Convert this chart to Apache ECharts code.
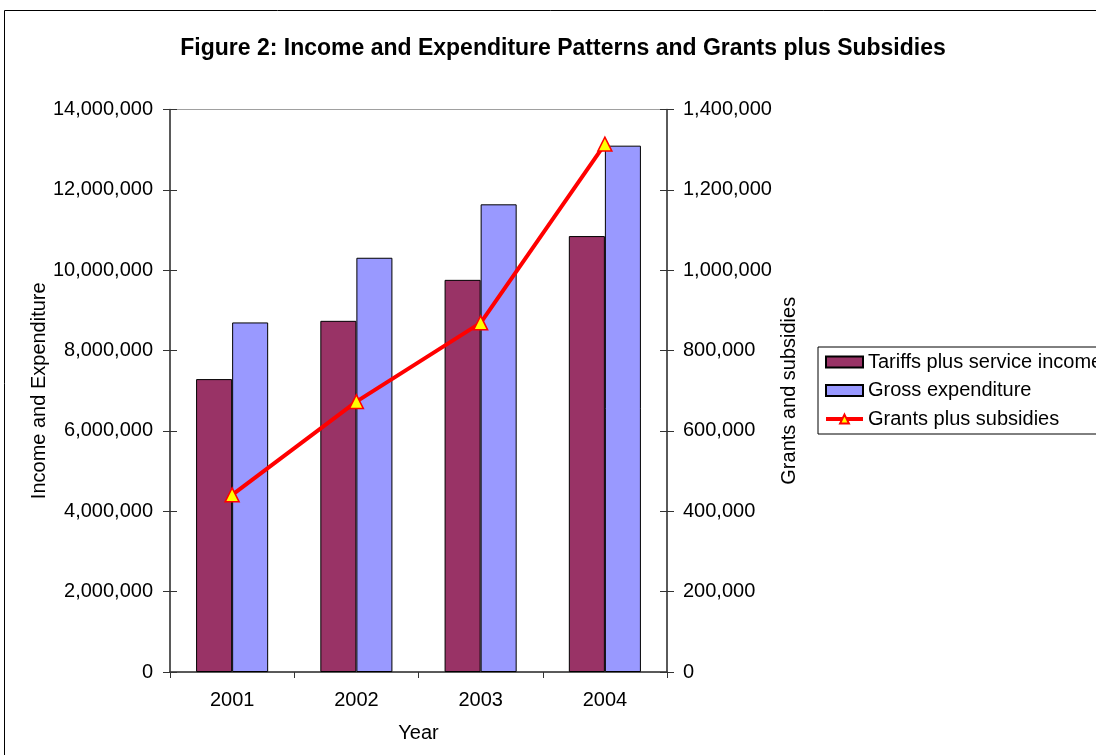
<!DOCTYPE html>
<html>
<head>
<meta charset="utf-8">
<script src="https://cdn.jsdelivr.net/npm/echarts@6/dist/echarts.min.js"></script>
<style>
  html, body { margin: 0; padding: 0; background: #fff; }
  #main { width: 1096px; height: 755px; }
</style>
</head>
<body>
<div id="main"></div>
<script>
// data
var years = ['2001', '2002', '2003', '2004'];
var tariffs = [7290000, 8740000, 9760000, 10850000];
var grossExp = [8700000, 10310000, 11640000, 13100000];
var grants = [441000, 673000, 869000, 1314000];

var font = 'Liberation Sans, Arial, sans-serif';

function fmt(v) {
   return v.toLocaleString('en-US');
}

var chart = echarts.init(document.getElementById('main'));

var option = {
   backgroundColor: '#fff',
   animation: false,
   textStyle: { fontFamily: font, color: '#000' },
   title: {
      text: 'Figure 2: Income and Expenditure Patterns and Grants plus Subsidies',
      left: 558,
      top: 32,
      textAlign: 'center',
      textStyle: { fontFamily: font, fontSize: 23, fontWeight: 'bold', color: '#000' }
   },
   // outer chart frame
   graphic: [{
      type: 'rect',
      shape: { x: 4.5, y: 10.5, width: 1200, height: 800 },
      style: { fill: null, stroke: '#000', lineWidth: 1 },
      silent: true,
      z: -1
   }],
   legend: {
      orient: 'vertical',
      left: 818,
      top: 347,
      padding: [4, 40, 4, 6],
      itemGap: 6.5,
      itemWidth: 37,
      itemHeight: 11,
      borderColor: '#000',
      borderWidth: 1,
      backgroundColor: '#fff',
      textStyle: { fontFamily: font, fontSize: 20, color: '#000', lineHeight: 22 },
      data: [
         { name: 'Tariffs plus service income', icon: 'rect' },
         { name: 'Gross expenditure', icon: 'rect' },
         { name: 'Grants plus subsidies', lineStyle: { width: 4 } }
      ]
   },
   grid: {
      left: 170,
      right: 429,
      top: 109.5,
      bottom: 83,
      show: true,
      borderColor: '#a0a0a0',
      borderWidth: 1,
      backgroundColor: '#fff'
   },
   xAxis: {
      type: 'category',
      data: years,
      name: 'Year',
      nameLocation: 'middle',
      nameGap: 51,
      nameTextStyle: { fontFamily: font, fontSize: 20, color: '#000' },
      axisLine: { lineStyle: { color: '#333', width: 1.5 } },
      axisTick: { show: true, length: 6, lineStyle: { color: '#333' } },
      axisLabel: { fontFamily: font, fontSize: 20, color: '#000', margin: 18 },
      splitLine: { show: false }
   },
   yAxis: [{
      type: 'value',
      position: 'left',
      min: 0,
      max: 14000000,
      interval: 2000000,
      name: 'Income and Expenditure',
      nameLocation: 'middle',
      nameGap: 121,
      nameTextStyle: { fontFamily: font, fontSize: 20, color: '#000' },
      axisLine: { show: true, lineStyle: { color: '#333', width: 1.5 } },
      axisTick: { show: true, length: 7, lineStyle: { color: '#333' } },
      axisLabel: { fontFamily: font, fontSize: 20, color: '#000', margin: 17, formatter: fmt },
      splitLine: { show: false }
   }, {
      type: 'value',
      position: 'right',
      min: 0,
      max: 1400000,
      interval: 200000,
      name: 'Grants and subsidies',
      nameLocation: 'middle',
      nameGap: 112,
      nameTextStyle: { fontFamily: font, fontSize: 20, color: '#000' },
      axisLine: { show: true, lineStyle: { color: '#333', width: 1.5 } },
      axisTick: { show: true, length: 7, lineStyle: { color: '#333' } },
      axisLabel: { fontFamily: font, fontSize: 20, color: '#000', margin: 16, formatter: fmt },
      splitLine: { show: false }
   }, {
      // inner half of the cross ticks, left
      type: 'value',
      position: 'left',
      min: 0,
      max: 14000000,
      interval: 2000000,
      axisLine: { show: false },
      axisTick: { show: true, inside: true, length: 7, lineStyle: { color: '#333' } },
      axisLabel: { show: false },
      splitLine: { show: false }
   }, {
      // inner half of the cross ticks, right
      type: 'value',
      position: 'right',
      min: 0,
      max: 1400000,
      interval: 200000,
      axisLine: { show: false },
      axisTick: { show: true, inside: true, length: 7, lineStyle: { color: '#333' } },
      axisLabel: { show: false },
      splitLine: { show: false }
   }],
   series: [{
      name: 'Tariffs plus service income',
      type: 'bar',
      yAxisIndex: 0,
      barGap: '0%',
      barCategoryGap: '42%',
      itemStyle: { color: '#993366', borderColor: '#000', borderWidth: 1 },
      data: tariffs
   }, {
      name: 'Gross expenditure',
      type: 'bar',
      yAxisIndex: 0,
      barGap: '0%',
      barCategoryGap: '42%',
      itemStyle: { color: '#9999ff', borderColor: '#000', borderWidth: 1 },
      data: grossExp
   }, {
      name: 'Grants plus subsidies',
      type: 'line',
      yAxisIndex: 1,
      symbol: 'triangle',
      symbolSize: 14,
      lineStyle: { color: '#ff0000', width: 4 },
      itemStyle: { color: '#ffff00', borderColor: '#ff0000', borderWidth: 1.5 },
      z: 5,
      data: grants
   }]
};

chart.setOption(option);
</script>
</body>
</html>
